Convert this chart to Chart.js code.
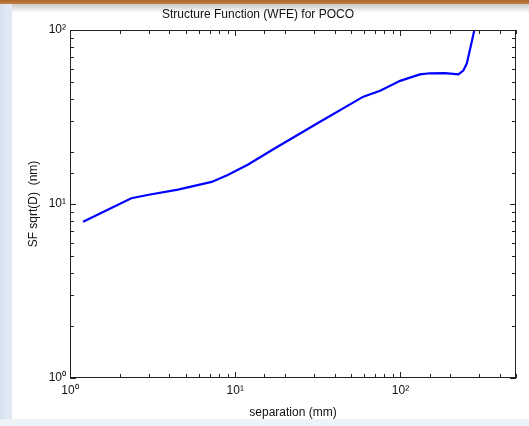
<!DOCTYPE html>
<html lang="en">
<head>
  <meta charset="UTF-8" />
  <title>Structure Function (WFE) for POCO</title>
  <script src="https://cdn.jsdelivr.net/npm/chart.js"></script>
  <style>
    body {
      margin: 0;
      width: 529px;
      height: 426px;
      position: relative;
      overflow: hidden;
      background: #ffffff;
      font-family: 'Liberation Sans', Arial, sans-serif;
    }
    #topbar {
      position: absolute; left: 0; top: 0; width: 529px; height: 4px;
      background: linear-gradient(#a8652e, #c8803f);
    }
    #shadow {
      position: absolute; left: 0; top: 4px; width: 529px; height: 9px;
      background: linear-gradient(#c9c9c9, #ffffff);
    }
    #leftstrip {
      position: absolute; left: 0; top: 4px; width: 12px; height: 422px;
      background: linear-gradient(90deg, #d5e2ee, #e3ecf5);
    }
    #bottomstrip {
      position: absolute; left: 0; top: 419px; width: 529px; height: 7px;
      background: #eef3f8;
    }
    canvas { position: absolute; left: 0; top: 0; }
  </style>
</head>
<body>
  <div id="topbar"></div>
  <div id="shadow"></div>
  <div id="leftstrip"></div>
  <div id="bottomstrip"></div>
  <canvas id="sfChart" width="529" height="426"></canvas>

  <script>
    // separation (mm) and SF sqrt(D) (nm)
    const separation = [1.2, 2.35, 3.0, 4.5, 7.2, 9.0, 11.9, 17.4, 32.6, 59.6, 75.3, 99.5, 131, 151, 186, 224, 240, 252, 264, 280, 300];
    const sfValues   = [7.9, 10.8, 11.3, 12.1, 13.4, 14.7, 16.8, 20.9, 29.7, 41.4, 44.8, 51.0, 55.6, 56.4, 56.5, 55.6, 58.5, 64.3, 78.0, 100, 130];
    const supers = { 0: '\u2070', 1: '\u00b9', 2: '\u00b2' };

    const points = separation.map((x, i) => ({ x: x, y: sfValues[i] }));

    function decadeLabel(value) {
      const p = Math.log10(value);
      if (Math.abs(p - Math.round(p)) < 1e-9 && supers[Math.round(p)] !== undefined) {
        return '10' + supers[Math.round(p)];
      }
      return '';
    }

    // box around the plot and inward ticks on all four sides
    const boxTicks = {
      id: 'boxTicks',
      afterDraw(chart) {
        const { ctx, chartArea: a, scales } = chart;
        ctx.save();
        ctx.strokeStyle = '#222';
        ctx.lineWidth = 1;
        ctx.strokeRect(a.left + 0.5, a.top + 0.5, a.right - a.left - 1, a.bottom - a.top - 1);
        ctx.beginPath();
        scales.x.ticks.forEach(t => {
          const px = Math.round(scales.x.getPixelForValue(t.value)) + 0.5;
          const len = decadeLabel(t.value) ? 6 : 4;
          ctx.moveTo(px, a.bottom); ctx.lineTo(px, a.bottom - len);
          ctx.moveTo(px, a.top); ctx.lineTo(px, a.top + len);
        });
        scales.y.ticks.forEach(t => {
          const py = Math.round(scales.y.getPixelForValue(t.value)) + 0.5;
          const len = decadeLabel(t.value) ? 6 : 4;
          ctx.moveTo(a.left, py); ctx.lineTo(a.left + len, py);
          ctx.moveTo(a.right, py); ctx.lineTo(a.right - len, py);
        });
        ctx.stroke();
        ctx.restore();
      }
    };

    new Chart(document.getElementById('sfChart'), {
      type: 'line',
      data: {
        datasets: [{
          data: points,
          borderColor: '#0000ff',
          borderWidth: 2.2,
          pointRadius: 0,
          tension: 0,
          fill: false
        }]
      },
      options: {
        responsive: false,
        animation: false,
        layout: { padding: { left: 0, right: 13, top: 0, bottom: 0 } },
        plugins: {
          legend: { display: false },
          tooltip: { enabled: false },
          title: {
            display: true,
            text: 'Structure Function (WFE) for POCO',
            color: '#111',
            font: { family: 'Liberation Sans', size: 12, weight: 'normal', lineHeight: 1.2 },
            padding: { top: 7, bottom: 8.6 }
          }
        },
        scales: {
          x: {
            type: 'logarithmic',
            min: 1,
            max: 500,
            grid: { display: false, drawTicks: false },
            border: { display: false },
            afterFit(scale) { scale.height = 48; },
            ticks: {
              autoSkip: false,
              maxRotation: 0,
              padding: 5,
              color: '#111',
              font: { family: 'Liberation Sans', size: 12 },
              callback: (v) => decadeLabel(v)
            },
            title: {
              display: true,
              text: 'separation (mm)',
              color: '#111',
              font: { family: 'Liberation Sans', size: 12 },
              padding: 6
            }
          },
          y: {
            type: 'logarithmic',
            min: 1,
            max: 100,
            grid: { display: false, drawTicks: false },
            border: { display: false },
            afterFit(scale) { scale.width = 70; },
            ticks: {
              autoSkip: false,
              padding: 4,
              color: '#111',
              font: { family: 'Liberation Sans', size: 12 },
              callback: (v) => decadeLabel(v)
            },
            title: {
              display: true,
              text: 'SF sqrt(D)  (nm)',
              color: '#111',
              font: { family: 'Liberation Sans', size: 12 },
              padding: 26
            }
          }
        }
      },
      plugins: [boxTicks]
    });
  </script>
</body>
</html>
